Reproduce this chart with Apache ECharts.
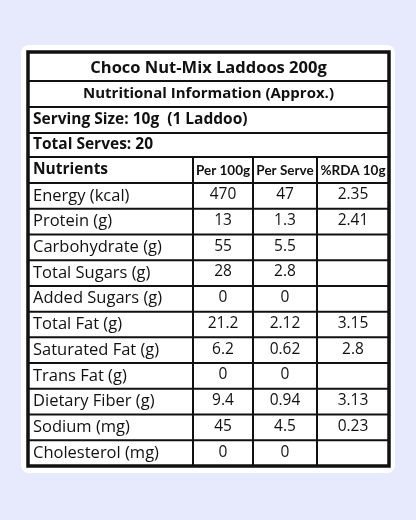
<!DOCTYPE html>
<html><head><meta charset="utf-8">
<script src="https://cdn.jsdelivr.net/npm/echarts@6/dist/echarts.min.js"></script>
<style>html,body{margin:0;padding:0;background:#e6eafc}#c{width:416px;height:520px}</style>
</head><body><div id="c"></div>
<script>
const title = "Choco Nut-Mix Laddoos 200g";
const subtitle = "Nutritional Information (Approx.)";
const servingSize = "Serving Size: 10g  (1 Laddoo)";
const totalServes = "Total Serves: 20";
const headers = ["Nutrients", "Per 100g", "Per Serve", "%RDA 10g"];
const nutrients = ["Energy (kcal)", "Protein (g)", "Carbohydrate (g)", "Total Sugars (g)", "Added Sugars (g)", "Total Fat (g)", "Saturated Fat (g)", "Trans Fat (g)", "Dietary Fiber (g)", "Sodium (mg)", "Cholesterol (mg)"];
const per100g = ["470", "13", "55", "28", "0", "21.2", "6.2", "0", "9.4", "45", "0"];
const perServe = ["47", "1.3", "5.5", "2.8", "0", "2.12", "0.62", "0", "0.94", "4.5", "0"];
const rda = ["2.35", "2.41", "", "", "", "3.15", "2.8", "", "3.13", "0.23", ""];

const FONT = "'Open Sans', sans-serif";
const HFONT = "Lato, sans-serif";
const L = 28, R = 389, T = 52, B = 466;
const colX = [L, 193, 253, 317, R];
const topRows = [T, 81, 107, 133, 157, 183];
const rowH = (B - 183) / nutrients.length;
const els = [];
els.push({type:'rect', shape:{x:21,y:45,width:374,height:428,r:8}, style:{fill:'#fff'}});
function hline(y){els.push({type:'line',shape:{x1:L,y1:y,x2:R,y2:y},style:{stroke:'#111',lineWidth:2}});}
function vline(x,y1,y2){els.push({type:'line',shape:{x1:x,y1:y1,x2:x,y2:y2},style:{stroke:'#111',lineWidth:2}});}
function txt(s,x,y,size,weight,align,font){els.push({type:'text',x:x,y:y,style:{text:s,fontSize:size,fontWeight:weight,fontFamily:font||FONT,fill:'#111',align:align,verticalAlign:'middle'}});}
topRows.slice(1).forEach(hline);
for(let i=1;i<nutrients.length;i++) hline(183+i*rowH);
[1,2,3].forEach(i=>vline(colX[i],157,B));
els.push({type:'rect',shape:{x:L,y:T,width:R-L,height:B-T},style:{fill:null,stroke:'#111',lineWidth:3.5}});
txt(title,(L+R)/2,68,16.5,'bold','center');
txt(subtitle,(L+R)/2,94,15,'bold','center');
txt(servingSize,33,120,15.5,'bold','left');
txt(totalServes,33,145,15.5,'bold','left');
txt(headers[0],33,170,15.5,'bold','left');
for(let c=1;c<4;c++) txt(headers[c],(colX[c]+colX[c+1])/2,171,13.5,'bold','center',HFONT);
nutrients.forEach((n,i)=>{
  const y=183+(i+0.5)*rowH;
  txt(n,33,y,16.5,'normal','left');
  [per100g,perServe,rda].forEach((arr,c)=>txt(arr[i],(colX[c+1]+colX[c+2])/2,y-1,15.5,'normal','center'));
});
const chart = echarts.init(document.getElementById('c'));
chart.setOption({backgroundColor:'#e6eafc', graphic:{elements:els}});
</script></body></html>
